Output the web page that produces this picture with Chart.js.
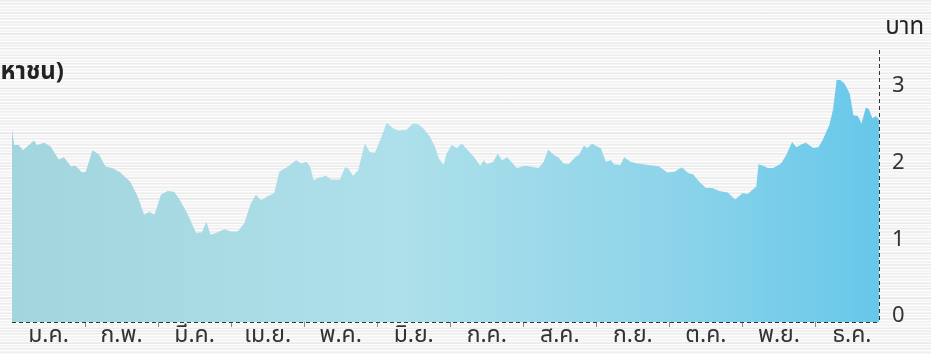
<!DOCTYPE html>
<html lang="th">

<head>
    <meta charset="UTF-8">
    <title>ราคาหุ้น</title>
    <script src="https://cdn.jsdelivr.net/npm/chart.js"></script>

    <style>
      html, body {
        margin: 0;
        padding: 0;
      }
      body {
        width: 931px;
        height: 354px;
        overflow: hidden;
        background-color: #f4f4f4;
        /* paper grain: fine horizontal streaks */
        background-image:
          repeating-linear-gradient(0deg, rgba(255,255,255,0.8) 0 1px, transparent 1px 3px),
          repeating-linear-gradient(0deg, rgba(0,0,0,0.035) 0 1px, transparent 1px 5px),
          repeating-linear-gradient(0deg, rgba(0,0,0,0.025) 0 2px, transparent 2px 11px);
      }
      #wrap {
        position: relative;
        width: 931px;
        height: 354px;
      }
    </style>
  </head>

<body>

    <div id="wrap">
        <canvas id="priceChart" width="931" height="354"></canvas>
    </div>

    <script>
        // month labels (Thai abbreviations)
        const months = ['ม.ค.', 'ก.พ.', 'มี.ค.', 'เม.ย.', 'พ.ค.', 'มิ.ย.',
                        'ก.ค.', 'ส.ค.', 'ก.ย.', 'ต.ค.', 'พ.ย.', 'ธ.ค.'];

        // position in months from 1 Jan (0) to end of the series
        const pos = [
            0.00, 0.03, 0.09, 0.15, 0.21, 0.30, 0.34, 0.44, 0.53, 0.64, 0.71, 0.81, 0.87, 0.96,
            1.01, 1.10, 1.19, 1.28, 1.37, 1.47, 1.62, 1.72, 1.81, 1.88, 1.95,
            2.04, 2.13, 2.22, 2.30, 2.40, 2.52, 2.60, 2.66, 2.72, 2.79, 2.91,
            3.00, 3.09, 3.18, 3.27, 3.34, 3.41, 3.50, 3.59, 3.66, 3.78, 3.89, 3.96,
            4.03, 4.08, 4.13, 4.19, 4.30, 4.37, 4.49, 4.56, 4.60, 4.67, 4.74, 4.83, 4.90, 4.97,
            5.06, 5.13, 5.22, 5.29, 5.40, 5.49, 5.56, 5.63, 5.72, 5.79, 5.84, 5.91, 5.95,
            6.02, 6.09, 6.16, 6.23, 6.32, 6.41, 6.46, 6.50, 6.59, 6.65, 6.71, 6.78, 6.91,
            7.03, 7.21, 7.28, 7.34, 7.42, 7.49, 7.55, 7.62, 7.72, 7.76, 7.83, 7.88, 7.94, 7.99,
            8.06, 8.13, 8.20, 8.24, 8.33, 8.38, 8.47, 8.56, 8.72, 8.86, 8.97,
            9.07, 9.17, 9.26, 9.32, 9.41, 9.50, 9.59, 9.68, 9.80, 9.90,
            10.00, 10.07, 10.19, 10.22, 10.28, 10.35, 10.42, 10.53, 10.60, 10.68, 10.74, 10.81, 10.87, 10.97,
            11.04, 11.10, 11.19, 11.24, 11.29, 11.34, 11.40, 11.47, 11.52, 11.58, 11.63, 11.69, 11.73, 11.78, 11.83, 11.87
        ];

        // closing price, baht
        const price = [
            2.44, 2.23, 2.23, 2.16, 2.21, 2.29, 2.23, 2.26, 2.21, 2.04, 2.07, 1.95, 1.96, 1.87,
            1.88, 2.16, 2.11, 1.95, 1.93, 1.88, 1.75, 1.56, 1.32, 1.36, 1.32,
            1.58, 1.63, 1.62, 1.51, 1.34, 1.08, 1.09, 1.23, 1.06, 1.08, 1.13,
            1.10, 1.10, 1.21, 1.47, 1.58, 1.51, 1.56, 1.60, 1.88, 1.95, 2.03, 1.99,
            2.01, 1.95, 1.77, 1.80, 1.83, 1.78, 1.78, 1.94, 1.93, 1.83, 1.90, 2.25, 2.14, 2.13,
            2.34, 2.52, 2.45, 2.42, 2.43, 2.51, 2.50, 2.45, 2.34, 2.21, 2.06, 1.97, 2.12,
            2.23, 2.19, 2.25, 2.17, 2.08, 1.96, 2.03, 1.98, 2.01, 2.12, 2.03, 2.07, 1.93,
            1.96, 1.93, 2.01, 2.17, 2.10, 2.06, 1.99, 1.98, 2.08, 2.10, 2.22, 2.19, 2.25, 2.22,
            2.19, 2.01, 2.03, 1.98, 1.97, 2.07, 2.01, 1.99, 1.97, 1.95, 1.87,
            1.88, 1.94, 1.86, 1.85, 1.75, 1.67, 1.67, 1.63, 1.61, 1.52,
            1.60, 1.59, 1.69, 1.98, 1.96, 1.93, 1.93, 1.99, 2.10, 2.27, 2.20, 2.24, 2.26, 2.19,
            2.20, 2.30, 2.49, 2.69, 3.08, 3.08, 3.03, 2.90, 2.62, 2.61, 2.51, 2.72, 2.70, 2.58, 2.61, 2.56
        ];

        const yTicks = [0, 1, 2, 3];

        const fontFamily = "'Noto Sans', 'Noto Sans Thai', 'Noto Sans Thai UI', sans-serif";

        // dashed axis lines, unit label and the cut heading
        const extrasPlugin = {
            id: 'extras',
            afterDraw(chart) {
                const c = chart.ctx;
                const a = chart.chartArea;
                c.save();
                c.strokeStyle = '#333';
                c.lineWidth = 1;
                c.setLineDash([4, 3]);
                c.beginPath();
                c.moveTo(a.left, Math.round(a.bottom) + 0.5);
                c.lineTo(a.right, Math.round(a.bottom) + 0.5);
                c.moveTo(Math.round(a.right) + 0.5, a.top);
                c.lineTo(Math.round(a.right) + 0.5, a.bottom);
                c.stroke();
                c.setLineDash([]);

                c.fillStyle = '#222';
                c.textBaseline = 'alphabetic';
                c.textAlign = 'right';
                c.font = "24px " + fontFamily;
                c.fillText('บาท', 924, 34);
                c.font = "bold 24px " + fontFamily;
                c.fillText('จำกัด (มหาชน)', 64, 79);
                c.restore();
            }
        };

        const points = pos.map((p, i) => ({ x: p, y: price[i] }));

        const ctx = document.getElementById('priceChart').getContext('2d');

        const priceChart = new Chart(ctx, {
        type: 'line',
        data: {
            datasets: [{
            data: points,
            fill: 'start',
            borderWidth: 0,
            pointRadius: 0,
            tension: 0,
            backgroundColor: context => {
                const area = context.chart.chartArea;
                if (!area) return '#9fd6e2';
                const g = context.chart.ctx.createLinearGradient(area.left, 0, area.right, 0);
                g.addColorStop(0, '#a2d5dd');
                g.addColorStop(0.45, '#ade0ea');
                g.addColorStop(0.75, '#8fd4ea');
                g.addColorStop(1, '#66c8ea');
                return g;
            }
            }]
        },
        options: {
            responsive: false,
            animation: false,
            layout: {
            padding: { left: 12, top: 50, right: 0, bottom: 0 }
            },
            plugins: {
            legend: { display: false },
            tooltip: { enabled: false },
            title: { display: false }
            },
            scales: {
            x: {
                type: 'linear',
                min: 0,
                max: 11.87,
                afterBuildTicks: scale => {
                const t = [];
                for (let i = 0; i < 12; i++) {
                    if (i > 0) t.push({ value: i });
                    t.push({ value: i + 0.5 });
                }
                scale.ticks = t;
                },
                afterFit: scale => { scale.height = 32; },
                grid: {
                drawOnChartArea: false,
                drawTicks: true,
                tickLength: 5,
                tickColor: c => (c.tick && Number.isInteger(c.tick.value)) ? '#888' : 'rgba(0,0,0,0)'
                },
                border: { display: false },
                ticks: {
                autoSkip: false,
                maxRotation: 0,
                padding: -5,
                color: '#333',
                font: { family: fontFamily, size: 23 },
                callback: value => Number.isInteger(value) ? '' : months[Math.floor(value)]
                }
            },
            y: {
                position: 'right',
                min: -0.08,
                max: 3.47,
                afterBuildTicks: scale => { scale.ticks = yTicks.map(v => ({ value: v })); },
                afterFit: scale => { scale.width = 52; },
                grid: { display: false, drawTicks: false },
                border: { display: false },
                ticks: {
                padding: 13,
                color: '#333',
                font: { family: fontFamily, size: 22 }
                }
            }
            }
        },
        plugins: [extrasPlugin]
        });
    </script>

</body>
</html>
